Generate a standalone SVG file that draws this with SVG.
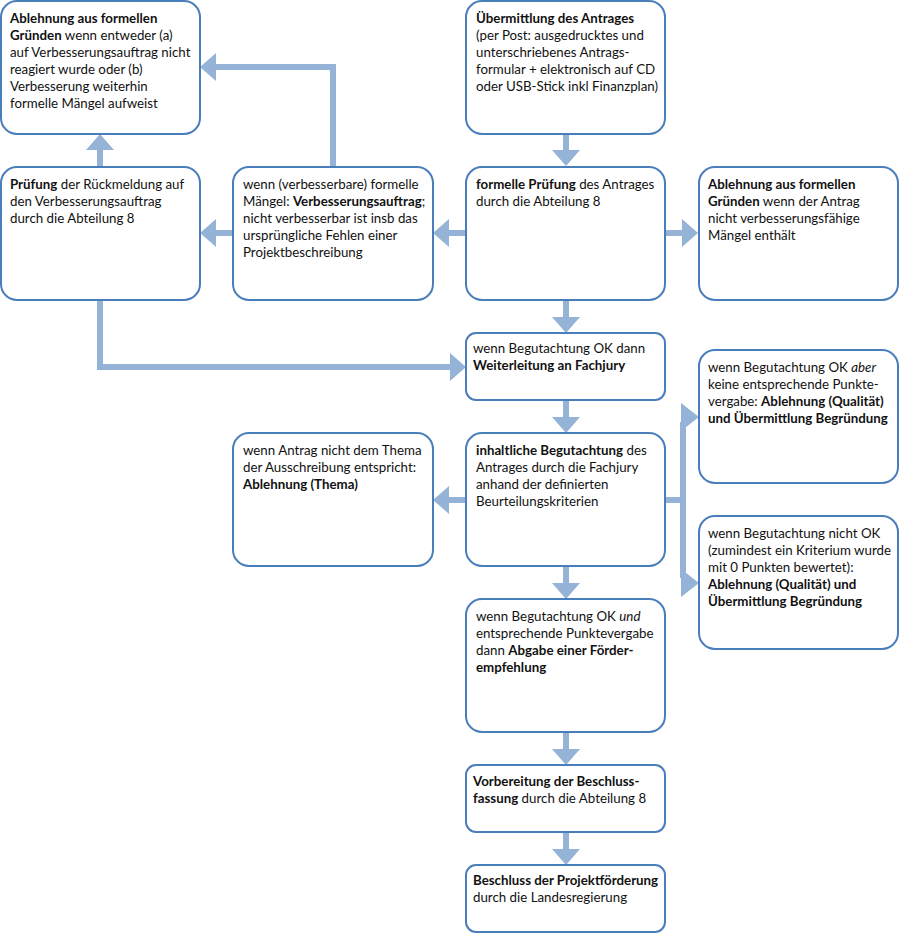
<svg xmlns="http://www.w3.org/2000/svg" width="900" height="933" viewBox="0 0 900 933">
<style>
.box{fill:#fff;stroke:#4a7ebb;stroke-width:2}
.t{font-family:Lato,"Liberation Sans",sans-serif;font-size:13.3px;fill:#111}
.b{font-weight:bold}
.i{font-style:italic}
.conn{fill:none;stroke:#95b3d7;stroke-width:6;stroke-linejoin:miter}
.head{fill:#95b3d7}
</style>
<defs>
<marker id="ah" viewBox="0 0 16 28" refX="0" refY="14" markerWidth="16" markerHeight="28" markerUnits="userSpaceOnUse" orient="auto">
<path d="M0,0 L16,14 L0,28 Z" fill="#95b3d7"/>
</marker>
</defs>
<rect width="900" height="933" fill="#fff"/>
<g id="connectors">
<path class="conn" d="M566,134 V150" marker-end="url(#ah)"/>
<path class="conn" d="M665,233 H682" marker-end="url(#ah)"/>
<path class="conn" d="M466,233 H449" marker-end="url(#ah)"/>
<path class="conn" d="M233,233 H216" marker-end="url(#ah)"/>
<path class="conn" d="M333,167 V67 H216" marker-end="url(#ah)"/>
<path class="conn" d="M100,167 V150" marker-end="url(#ah)"/>
<path class="conn" d="M100,300 V367 H450" marker-end="url(#ah)"/>
<path class="conn" d="M566,300 V317" marker-end="url(#ah)"/>
<path class="conn" d="M566,400 V417" marker-end="url(#ah)"/>
<path class="conn" d="M466,500 H449" marker-end="url(#ah)"/>
<path class="conn" d="M566,566 V583" marker-end="url(#ah)"/>
<path class="conn" d="M566,732 V749" marker-end="url(#ah)"/>
<path class="conn" d="M566,832 V849" marker-end="url(#ah)"/>
<path class="conn" d="M665,500 H683 M683,422 V578"/>
<polygon class="head" points="681,403 699,417 681,431"/>
<polygon class="head" points="681,569 699,583 681,597"/>
</g>
<g id="n1">
<rect class="box" x="1" y="1" width="199" height="133" rx="16"/>
<text class="t" x="10" y="23"><tspan class="b">Ablehnung aus formellen</tspan><tspan x="10" dy="17" class="b">Gründen</tspan> wenn entweder (a)<tspan x="10" dy="17">auf Verbesserungsauftrag nicht</tspan><tspan x="10" dy="17">reagiert wurde oder (b)</tspan><tspan x="10" dy="17">Verbesserung weiterhin</tspan><tspan x="10" dy="17">formelle Mängel aufweist</tspan></text>
</g>
<g id="n2">
<rect class="box" x="1" y="167" width="199" height="133" rx="16"/>
<text class="t" x="10" y="189"><tspan class="b">Prüfung</tspan> der Rückmeldung auf<tspan x="10" dy="17">den Verbesserungsauftrag</tspan><tspan x="10" dy="17">durch die Abteilung 8</tspan></text>
</g>
<g id="n3">
<rect class="box" x="233" y="167" width="200" height="133" rx="16"/>
<text class="t" x="243" y="189">wenn (verbesserbare) formelle<tspan x="243" dy="17">Mängel: </tspan><tspan class="b">Verbesserungsauftrag</tspan>;<tspan x="243" dy="17">nicht verbesserbar ist insb das</tspan><tspan x="243" dy="17">ursprüngliche Fehlen einer</tspan><tspan x="243" dy="17">Projektbeschreibung</tspan></text>
</g>
<g id="n4">
<rect class="box" x="466" y="1" width="199" height="133" rx="16"/>
<text class="t" x="476" y="23"><tspan class="b">Übermittlung des Antrages</tspan><tspan x="476" dy="17">(per Post: ausgedrucktes und</tspan><tspan x="476" dy="17">unterschriebenes Antrags-</tspan><tspan x="476" dy="17">formular + elektronisch auf CD</tspan><tspan x="476" dy="17">oder USB-Stick inkl Finanzplan)</tspan></text>
</g>
<g id="n5">
<rect class="box" x="466" y="167" width="199" height="133" rx="16"/>
<text class="t" x="476" y="189"><tspan class="b">formelle Prüfung</tspan> des Antrages<tspan x="476" dy="17">durch die Abteilung 8</tspan></text>
</g>
<g id="n6">
<rect class="box" x="699" y="167" width="199" height="133" rx="16"/>
<text class="t" x="708" y="189"><tspan class="b">Ablehnung aus formellen</tspan><tspan x="708" dy="17" class="b">Gründen</tspan> wenn der Antrag<tspan x="708" dy="17">nicht verbesserungsfähige</tspan><tspan x="708" dy="17">Mängel enthält</tspan></text>
</g>
<g id="n7">
<rect class="box" x="466" y="333" width="199" height="67" rx="10"/>
<text class="t" x="473" y="353">wenn Begutachtung OK dann<tspan x="473" dy="17" class="b">Weiterleitung an Fachjury</tspan></text>
</g>
<g id="n8">
<rect class="box" x="466" y="433" width="199" height="133" rx="16"/>
<text class="t" x="476" y="455"><tspan class="b">inhaltliche Begutachtung</tspan> des<tspan x="476" dy="17">Antrages durch die Fachjury</tspan><tspan x="476" dy="17">anhand der definierten</tspan><tspan x="476" dy="17">Beurteilungskriterien</tspan></text>
</g>
<g id="n9">
<rect class="box" x="699" y="350" width="199" height="133" rx="16"/>
<text class="t" x="708" y="372">wenn Begutachtung OK <tspan class="i">aber</tspan><tspan x="708" dy="17">keine entsprechende Punkte-</tspan><tspan x="708" dy="17">vergabe: </tspan><tspan class="b">Ablehnung (Qualität)</tspan><tspan x="708" dy="17" class="b">und Übermittlung Begründung</tspan></text>
</g>
<g id="n10">
<rect class="box" x="699" y="516" width="199" height="133" rx="16"/>
<text class="t" x="708" y="538">wenn Begutachtung nicht OK<tspan x="708" dy="17">(zumindest ein Kriterium wurde</tspan><tspan x="708" dy="17">mit 0 Punkten bewertet):</tspan><tspan x="708" dy="17" class="b">Ablehnung (Qualität) und</tspan><tspan x="708" dy="17" class="b">Übermittlung Begründung</tspan></text>
</g>
<g id="n11">
<rect class="box" x="233" y="433" width="200" height="133" rx="16"/>
<text class="t" x="243" y="455">wenn Antrag nicht dem Thema<tspan x="243" dy="17">der Ausschreibung entspricht:</tspan><tspan x="243" dy="17" class="b">Ablehnung (Thema)</tspan></text>
</g>
<g id="n12">
<rect class="box" x="466" y="599" width="199" height="133" rx="16"/>
<text class="t" x="476" y="621">wenn Begutachtung OK <tspan class="i">und</tspan><tspan x="476" dy="17">entsprechende Punktevergabe</tspan><tspan x="476" dy="17">dann </tspan><tspan class="b">Abgabe einer Förder-</tspan><tspan x="476" dy="17" class="b">empfehlung</tspan></text>
</g>
<g id="n13">
<rect class="box" x="466" y="765" width="199" height="67" rx="10"/>
<text class="t" x="473" y="786"><tspan class="b">Vorbereitung der Beschluss-</tspan><tspan x="473" dy="17" class="b">fassung</tspan> durch die Abteilung 8</text>
</g>
<g id="n14">
<rect class="box" x="466" y="865" width="199" height="67" rx="10"/>
<text class="t" x="473" y="885"><tspan class="b">Beschluss der Projektförderung</tspan><tspan x="473" dy="17">durch die Landesregierung</tspan></text>
</g>
</svg>
